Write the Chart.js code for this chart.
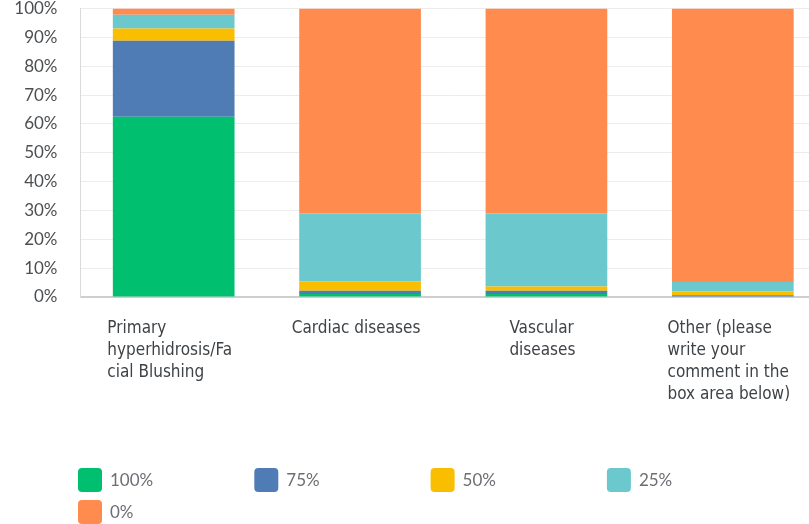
<!DOCTYPE html>
<html><head><meta charset="utf-8">
<script src="https://cdn.jsdelivr.net/npm/chart.js@4"></script>
<style>
html,body{margin:0;padding:0;background:#fff;overflow:hidden;width:809px;height:524px}
#wrap{position:relative;width:826px;height:524px}
canvas{display:block}
</style></head>
<body><div id="wrap"><canvas id="c" width="826" height="524"></canvas></div>
<script>
// Category labels (wrapped as in the reference)
const categories = [
  ["Primary", "hyperhidrosis/Fa", "cial Blushing"],
  ["Cardiac diseases"],
  ["Vascular", "diseases"],
  ["Other (please", "write your", "comment in the", "box area below)"]
];
// Series (percent of respondents)
const seriesLabels = ["100%", "75%", "50%", "25%", "0%"];
const v100 = [62.5, 1.0, 1.0, 0.0];
const v75  = [26.3, 1.2, 1.2, 0.6];
const v50  = [4.3, 3.2, 1.4, 1.3];
const v25  = [4.7, 23.5, 25.3, 3.3];
const v0   = [2.2, 71.1, 71.1, 94.8];
const seriesValues = [v100, v75, v50, v25, v0];
const seriesColors = ["#00BF6F", "#507CB6", "#F9BE00", "#6BC8CD", "#FF8B4F"];
// Y axis
const yMin = 0, yMax = 100, yStep = 10;

const catLabelPlugin = {
  id: 'catLabels',
  afterDraw(chart) {
    const ctx = chart.ctx, xs = chart.scales.x, area = chart.chartArea;
    ctx.save();
    ctx.fillStyle = '#3f4347';
    ctx.font = '17px "Liberation Sans Narrow", "DejaVu Sans Condensed", Roboto, sans-serif';
    ctx.textAlign = 'left';
    ctx.textBaseline = 'top';
    categories.forEach((lines, i) => {
      const cx = xs.getPixelForTick(i);
      const maxW = Math.max(...lines.map(l => ctx.measureText(l).width));
      const x0 = cx - Math.min(68.5, maxW / 2 + 4);
      lines.forEach((ln, k) => ctx.fillText(ln, x0, area.bottom + 23 + k * 22));
    });
    ctx.restore();
  }
};

const legendPlugin = {
  id: 'gridLegend',
  afterDraw(chart) {
    const ctx = chart.ctx;
    ctx.save();
    ctx.font = '17px Lato, sans-serif';
    ctx.textBaseline = 'middle';
    ctx.textAlign = 'left';
    chart.data.datasets.forEach((ds, i) => {
      const col = i % 4, row = Math.floor(i / 4);
      const x = 78 + col * 176.3, y = 468 + row * 32;
      ctx.fillStyle = ds.backgroundColor;
      ctx.beginPath();
      ctx.roundRect(x, y, 24, 24, 4);
      ctx.fill();
      ctx.fillStyle = '#6b6e72';
      ctx.fillText(ds.label, x + 32, y + 13);
    });
    ctx.restore();
  }
};

new Chart(document.getElementById('c'), {
  type: 'bar',
  data: {
    labels: categories.map(c => c.join(' ')),
    datasets: seriesLabels.map((l, i) => ({
      label: l,
      data: seriesValues[i],
      backgroundColor: seriesColors[i],
      borderWidth: 0,
      categoryPercentage: 1,
      barPercentage: 0.653
    }))
  },
  options: {
    responsive: false,
    animation: false,
    devicePixelRatio: 1,
    layout: { padding: { top: 8.5, left: 0, right: 0, bottom: 0 } },
    plugins: { legend: { display: false }, tooltip: { enabled: false } },
    scales: {
      x: {
        stacked: true,
        grid: { display: false, drawTicks: false },
        border: { color: '#cfcfcf', width: 2 },
        ticks: { display: false },
        afterFit: s => { s.height = 227; s.paddingTop = 0; s.paddingBottom = 0; s.paddingLeft = 0; s.paddingRight = 0; }
      },
      y: {
        stacked: true,
        min: yMin, max: yMax,
        ticks: { stepSize: yStep, callback: v => v + '%', padding: 23, color: '#4c4f52', font: { family: 'Lato', size: 17 } },
        grid: { color: '#ececec', drawTicks: false },
        border: { color: '#dadada', width: 1 },
        afterFit: s => { s.width = 80.5; s.paddingTop = 0; s.paddingBottom = 0; }
      }
    }
  },
  plugins: [catLabelPlugin, legendPlugin]
});
</script>
</body></html>
